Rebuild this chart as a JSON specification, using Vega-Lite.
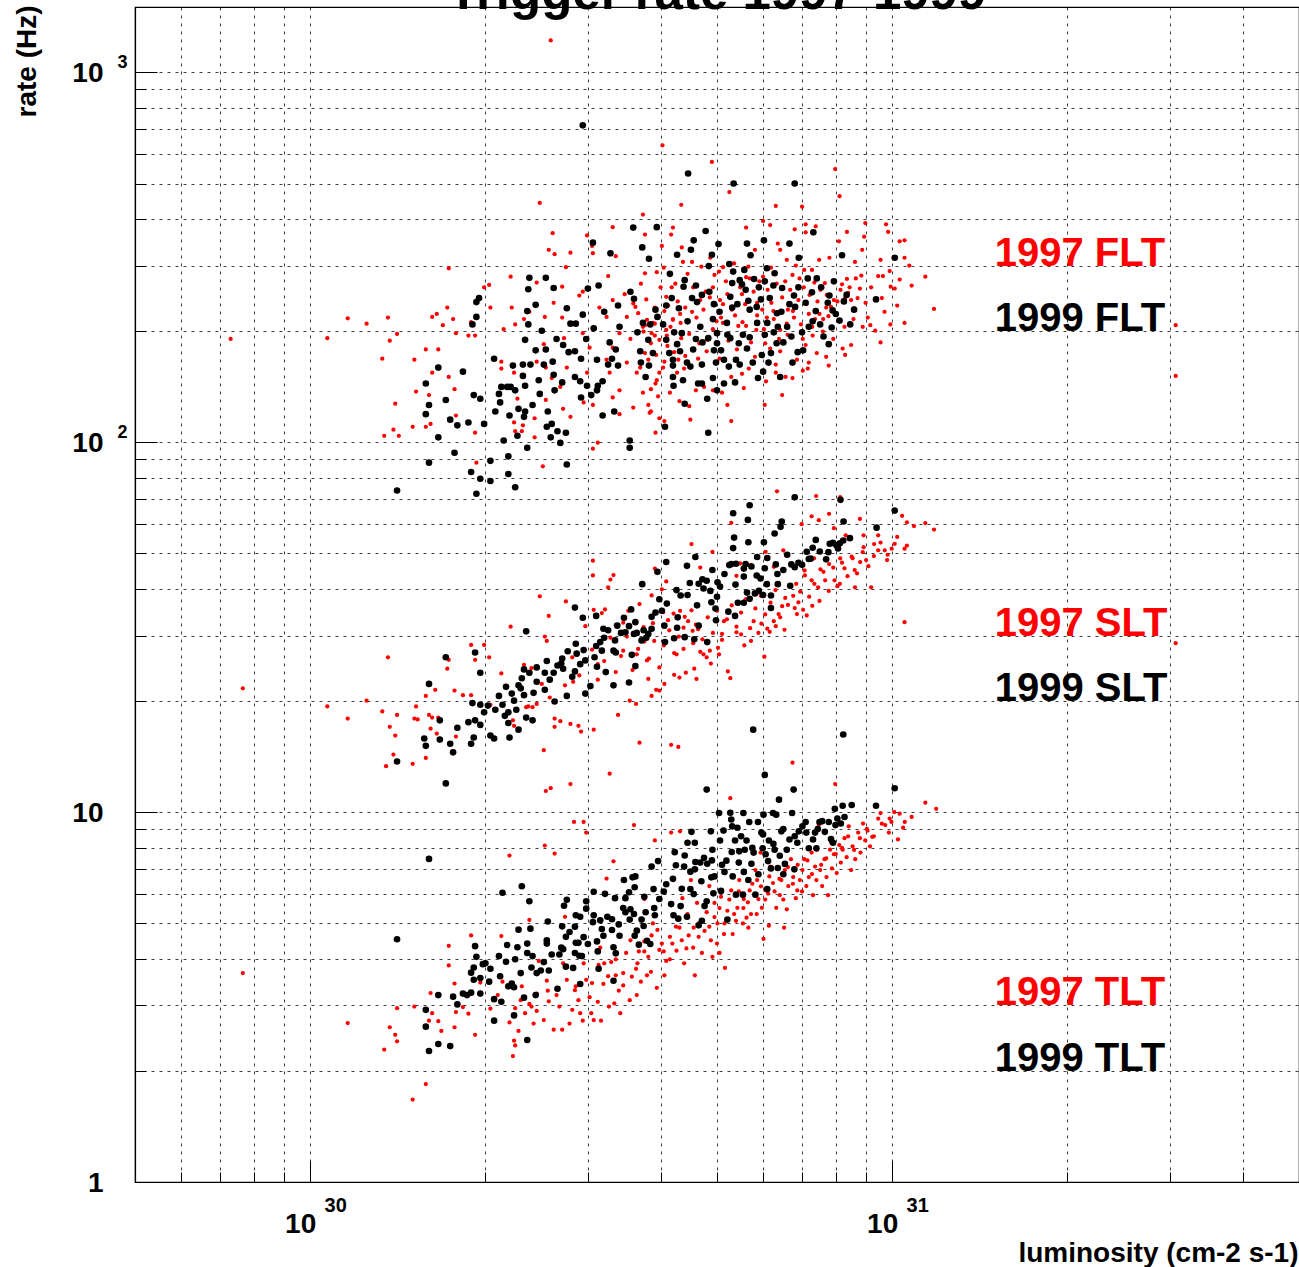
{
"$schema": "https://vega.github.io/schema/vega-lite/v6.json",
"width": 1164, "height": 1175,
"autosize": {"type": "none"},
"padding": {"left": 135, "top": 7, "right": 0, "bottom": 85},
"background": "white",
"config": {"view": {"stroke": "#000", "strokeWidth": 1.2}, "font": "Liberation Sans"},
"title": {"text": "Trigger rate 1997-1999", "fontSize": 51, "fontWeight": "bold", "font": "Liberation Sans", "color": "#000", "anchor": "middle", "frame": "group", "baseline": "alphabetic", "offset": -55, "zindex": 1},
"datasets": {
"r": [
{"x":0.73,"y":190},{"x":1.07,"y":191},{"x":1.16,"y":216},{"x":1.25,"y":209},
{"x":1.33,"y":168},{"x":1.36,"y":217},{"x":1.37,"y":188},{"x":1.41,"y":196},{"x":1.51,"y":167},{"x":1.52,"y":137},{"x":1.40,"y":127},{"x":1.34,"y":104},{"x":1.39,"y":108},{"x":1.42,"y":104},{"x":1.50,"y":110},{"x":1.58,"y":178},{"x":1.62,"y":218},{"x":1.65,"y":222},{"x":1.69,"y":207},{"x":1.72,"y":231},{"x":1.73,"y":295},{"x":1.76,"y":215},{"x":1.78,"y":197},{"x":1.66,"y":178},{"x":1.62,"y":154},{"x":1.60,"y":134},{"x":1.73,"y":150},{"x":1.77,"y":139},{"x":1.58,"y":110},{"x":1.61,"y":112},{"x":1.78,"y":118},{"x":1.92,"y":106},{"x":1.87,"y":194},{"x":1.92,"y":194},{"x":1.89,"y":211},{"x":1.99,"y":262},{"x":2.03,"y":266},{"x":2.04,"y":231},{"x":1.93,"y":88},{"x":2.13,"y":165},{"x":2.13,"y":158},{"x":2.21,"y":280},{"x":2.22,"y":231},{"x":2.25,"y":208},{"x":2.15,"y":202},{"x":2.24,"y":154},{"x":2.27,"y":131},{"x":2.24,"y":113},{"x":2.25,"y":107},{"x":2.31,"y":107},{"x":2.32,"y":111},{"x":2.43,"y":116},{"x":2.43,"y":103},{"x":2.51,"y":86},{"x":2.33,"y":215},{"x":2.38,"y":225},{"x":2.45,"y":270},{"x":2.48,"y":443},{"x":2.57,"y":331},{"x":2.61,"y":367},{"x":2.63,"y":322},{"x":2.75,"y":297},{"x":2.80,"y":325},{"x":2.71,"y":263},{"x":2.62,"y":238},{"x":2.53,"y":218},{"x":2.52,"y":184},{"x":2.71,"y":217},{"x":2.73,"y":191},{"x":2.86,"y":210},{"x":2.90,"y":249},{"x":2.94,"y":255},{"x":2.99,"y":362},{"x":3.05,"y":339},{"x":3.06,"y":324},{"x":3.25,"y":281},{"x":3.31,"y":381},{"x":3.35,"y":318},{"x":2.45,"y":165},{"x":2.54,"y":159},{"x":2.60,"y":149},{"x":2.69,"y":141},{"x":2.54,"y":130},{"x":2.72,"y":123},{"x":2.80,"y":117},{"x":2.95,"y":128},{"x":3.06,"y":126},{"x":3.12,"y":99.6},{"x":3.06,"y":96},{"x":2.59,"y":1218},{"x":4.03,"y":634},
{"x":3.47,"y":251},{"x":3.50,"y":218},{"x":3.59,"y":237},{"x":3.66,"y":223},{"x":3.73,"y":205},{"x":3.79,"y":214},{"x":3.86,"y":197},{"x":3.91,"y":209},{"x":3.98,"y":189},{"x":4.09,"y":201},{"x":4.20,"y":214},{"x":3.40,"y":197},{"x":3.31,"y":180},{"x":3.23,"y":167},{"x":3.27,"y":154},{"x":3.40,"y":138},{"x":3.50,"y":164},{"x":3.64,"y":154},{"x":3.73,"y":136},{"x":3.83,"y":120},{"x":3.94,"y":147},{"x":4.04,"y":159},{"x":4.15,"y":136},{"x":4.27,"y":154},{"x":3.59,"y":124},{"x":3.40,"y":119},{"x":3.31,"y":132},{"x":3.11,"y":167},{"x":3.02,"y":180},{"x":2.94,"y":197},{"x":3.23,"y":218},{"x":3.14,"y":231},{"x":3.31,"y":242},{"x":2.99,"y":154},{"x":2.76,"y":159},{"x":3.76,"y":286},{"x":3.94,"y":288},{"x":4.09,"y":247},{"x":4.18,"y":262},{"x":4.06,"y":226},
{"x":4.90,"y":572},{"x":7.98,"y":547},{"x":8.12,"y":462},{"x":5.25,"y":474},{"x":4.34,"y":438},{"x":6.31,"y":435},{"x":7.00,"y":433},{"x":3.73,"y":412},{"x":3.76,"y":364},{"x":4.20,"y":380},{"x":4.17,"y":364},{"x":5.61,"y":380},{"x":6.00,"y":396},{"x":6.17,"y":386},{"x":7.10,"y":388},{"x":7.39,"y":383},{"x":6.80,"y":376},{"x":7.10,"y":369},{"x":8.99,"y":391},{"x":9.76,"y":388},{"x":9.84,"y":370},{"x":8.36,"y":370},{"x":8.95,"y":359},{"x":8.10,"y":349},{"x":10.3,"y":349},{"x":10.5,"y":351},{"x":10.5,"y":315},{"x":9.55,"y":311},{"x":8.88,"y":331},{"x":8.63,"y":307},{"x":7.49,"y":311},{"x":7.80,"y":315},{"x":6.59,"y":311},{"x":6.42,"y":331},{"x":6.36,"y":344},{"x":5.81,"y":331},{"x":4.02,"y":339},{"x":4.35,"y":336},{"x":4.37,"y":307},{"x":4.53,"y":307},{"x":4.87,"y":315},{"x":5.12,"y":297},{"x":5.04,"y":289},{"x":5.61,"y":279},{"x":5.69,"y":277},{"x":6.00,"y":280},{"x":6.74,"y":283},{"x":6.93,"y":277},{"x":7.06,"y":292},{"x":7.28,"y":292},{"x":7.66,"y":269},{"x":8.20,"y":267},{"x":8.36,"y":276},{"x":8.66,"y":277},{"x":8.80,"y":260},{"x":9.46,"y":281},{"x":9.64,"y":281},{"x":9.94,"y":263},{"x":10.1,"y":260},{"x":10.8,"y":265},{"x":11.4,"y":280},{"x":11.8,"y":229},{"x":10.2,"y":234},{"x":9.70,"y":225},{"x":10.5,"y":210},{"x":9.93,"y":208},{"x":9.55,"y":186},{"x":9.08,"y":217},{"x":9.17,"y":207},{"x":8.9,"y":205},{"x":8.6,"y":230},{"x":8.5,"y":242},{"x":8.4,"y":253},{"x":8.3,"y":245},{"x":7.94,"y":242},{"x":7.7,"y":231},{"x":7.77,"y":219},{"x":7.5,"y":222},{"x":7.37,"y":215},{"x":7.19,"y":222},{"x":7.6,"y":199},{"x":7.3,"y":194},{"x":7.02,"y":190},{"x":7.1,"y":183},{"x":7.42,"y":174},{"x":7.7,"y":170},{"x":7.78,"y":161},{"x":8.22,"y":179},{"x":8.5,"y":183},{"x":8.3,"y":172},{"x":7.19,"y":164},{"x":7.16,"y":158},{"x":7.02,"y":156},{"x":6.74,"y":149},{"x":6.56,"y":150},{"x":6.31,"y":154},{"x":6.07,"y":146},{"x":6.04,"y":126},{"x":6.47,"y":134},{"x":6.31,"y":162},{"x":6.86,"y":167},{"x":6.42,"y":176},{"x":6.17,"y":179},{"x":5.81,"y":170},{"x":5.67,"y":158},{"x":5.52,"y":153},{"x":5.56,"y":140},{"x":5.29,"y":150},{"x":5.21,"y":126},{"x":5.29,"y":114},{"x":5.10,"y":136},{"x":4.92,"y":138},{"x":4.75,"y":141},{"x":4.60,"y":138},{"x":4.48,"y":125},{"x":4.31,"y":129},{"x":4.50,"y":115},{"x":4.06,"y":114},{"x":3.92,"y":106},{"x":3.98,"y":116},{"x":3.85,"y":121},{"x":3.81,"y":126},{"x":3.96,"y":133},{"x":3.85,"y":139},{"x":3.92,"y":144},{"x":3.98,"y":154},{"x":4.06,"y":165},{"x":4.29,"y":167},{"x":4.41,"y":171},{"x":4.56,"y":178},{"x":4.66,"y":185},{"x":4.81,"y":189},{"x":4.92,"y":202},{"x":5.12,"y":210},{"x":5.08,"y":217},{"x":5.37,"y":220},{"x":5.44,"y":206},{"x":5.61,"y":206},{"x":5.86,"y":220},{"x":6.09,"y":217},{"x":6.02,"y":202},{"x":6.26,"y":215},{"x":6.42,"y":201},{"x":6.59,"y":209},{"x":6.62,"y":228},{"x":6.78,"y":217},{"x":6.20,"y":238},{"x":5.86,"y":238},{"x":5.52,"y":251},{"x":5.21,"y":251},{"x":5.06,"y":242},{"x":4.92,"y":262},{"x":4.78,"y":255},{"x":4.68,"y":242},{"x":4.53,"y":225},{"x":4.41,"y":231},{"x":4.32,"y":222},{"x":4.20,"y":215},{"x":4.12,"y":234},{"x":3.91,"y":231},{"x":3.97,"y":219},{"x":3.88,"y":210},{"x":3.76,"y":207},{"x":3.74,"y":199},{"x":3.91,"y":194},{"x":4.10,"y":194},{"x":4.34,"y":191},{"x":4.22,"y":175},{"x":3.76,"y":174},{"x":3.69,"y":159},{"x":3.81,"y":167},{"x":3.76,"y":150},{"x":30.7,"y":207},{"x":30.7,"y":151},
{"x":3.55,"y":190},{"x":3.62,"y":232},{"x":3.70,"y":268},{"x":3.78,"y":243},{"x":3.85,"y":185},{"x":3.93,"y":172},{"x":4.00,"y":262},{"x":4.05,"y":296},{"x":4.11,"y":182},{"x":4.16,"y":205},{"x":4.24,"y":268},{"x":4.28,"y":240},{"x":4.33,"y":210},{"x":4.39,"y":158},{"x":4.45,"y":285},{"x":4.48,"y":196},{"x":4.55,"y":262},{"x":4.61,"y":217},{"x":4.64,"y":168},{"x":4.70,"y":298},{"x":4.74,"y":228},{"x":4.80,"y":176},{"x":4.86,"y":246},{"x":4.95,"y":283},{"x":4.99,"y":212},{"x":5.05,"y":168},{"x":5.12,"y":236},{"x":5.18,"y":272},{"x":5.23,"y":188},{"x":5.30,"y":228},{"x":5.35,"y":304},{"x":5.41,"y":178},{"x":5.48,"y":262},{"x":5.53,"y":211},{"x":5.59,"y":236},{"x":5.66,"y":298},{"x":5.72,"y":186},{"x":5.78,"y":255},{"x":5.84,"y":201},{"x":5.91,"y":272},{"x":5.98,"y":228},{"x":6.05,"y":185},{"x":6.11,"y":258},{"x":6.19,"y":296},{"x":6.25,"y":226},{"x":6.33,"y":268},{"x":6.39,"y":190},{"x":6.47,"y":246},{"x":6.55,"y":272},{"x":6.61,"y":195},{"x":6.68,"y":258},{"x":6.75,"y":226},{"x":6.83,"y":300},{"x":6.90,"y":242},{"x":6.97,"y":208},{"x":7.05,"y":262},{"x":7.12,"y":236},{"x":7.21,"y":250},{"x":7.29,"y":205},{"x":7.35,"y":270},{"x":7.44,"y":240},{"x":7.53,"y":258},{"x":7.61,"y":215},{"x":7.72,"y":250},{"x":7.85,"y":232},{"x":7.92,"y":190},{"x":8.05,"y":240},{"x":8.15,"y":258},{"x":8.28,"y":205},{"x":8.45,"y":262},{"x":8.58,"y":215},{"x":8.72,"y":245},{"x":8.85,"y":282},{"x":9.0,"y":238},{"x":9.2,"y":262},{"x":9.35,"y":200},{"x":9.6,"y":245},{"x":9.9,"y":290},{"x":10.3,"y":275},{"x":10.7,"y":300},
{"x":0.766,"y":21.6},{"x":1.07,"y":19.3},{"x":1.16,"y":17.9},{"x":1.25,"y":20.0},{"x":1.33,"y":18.7},{"x":1.36,"y":26.2},{"x":1.37,"y":17.0},{"x":1.41,"y":18.3},{"x":1.40,"y":16.1},{"x":1.39,"y":14.3},{"x":1.35,"y":13.3},{"x":1.50,"y":13.5},{"x":1.52,"y":19.3},{"x":1.51,"y":17.9},{"x":1.53,"y":17.8},{"x":1.58,"y":20.6},{"x":1.58,"y":14.0},{"x":1.60,"y":18.3},{"x":1.61,"y":16.8},{"x":1.62,"y":18.0},{"x":1.65,"y":16.3},{"x":1.66,"y":18.0},{"x":1.64,"y":21.4},{"x":1.72,"y":24.4},{"x":1.73,"y":25.8},{"x":1.77,"y":21.3},{"x":1.78,"y":16.0},{"x":1.83,"y":20.7},{"x":1.89,"y":20.7},{"x":1.89,"y":28.3},{"x":1.92,"y":25.8},{"x":1.99,"y":28.3},{"x":2.03,"y":26.2},{"x":2.04,"y":19.5},{"x":2.13,"y":23.7},{"x":2.21,"y":31.7},{"x":2.23,"y":17.7},{"x":2.24,"y":17.1},{"x":2.33,"y":25.0},{"x":2.35,"y":19.2},{"x":2.37,"y":19.3},{"x":2.41,"y":19.2},{"x":2.45,"y":19.6},{"x":2.52,"y":14.7},{"x":2.48,"y":38.3},{"x":2.53,"y":29.8},{"x":2.55,"y":29.0},{"x":2.57,"y":33.9},{"x":2.63,"y":17.9},{"x":2.63,"y":17.0},{"x":2.69,"y":17.6},{"x":2.75,"y":37.1},{"x":2.80,"y":17.3},{"x":2.83,"y":22.5},{"x":2.89,"y":17.1},{"x":2.92,"y":16.5},{"x":2.97,"y":31.8},{"x":3.07,"y":16.7},{"x":3.06,"y":47.8},{"x":3.06,"y":43.6},{"x":3.07,"y":35.2},{"x":3.12,"y":25.1},{"x":3.17,"y":34.5},{"x":3.21,"y":35.3},{"x":3.25,"y":40.5},{"x":3.27,"y":12.7},{"x":3.28,"y":42.5},{"x":3.32,"y":43.7},{"x":3.38,"y":18.3},{"x":3.45,"y":27.3},{"x":3.54,"y":20.0},{"x":3.63,"y":19.6},{"x":3.64,"y":26.7},{"x":3.68,"y":15.4},{"x":3.75,"y":28.9},{"x":3.79,"y":25.7},{"x":3.81,"y":22.9},{"x":3.88,"y":32.4},{"x":3.86,"y":20.6},{"x":3.93,"y":21.4},{"x":3.98,"y":21.3},{"x":4.06,"y":22.2},{"x":4.17,"y":15.2},{"x":4.29,"y":15.0},{"x":4.22,"y":23.5},{"x":4.26,"y":26.7},{"x":4.31,"y":23.1},{"x":4.42,"y":23.8},{"x":4.57,"y":24.4},{"x":4.61,"y":22.9},{"x":4.04,"y":34.7},{"x":4.12,"y":33.0},{"x":4.21,"y":34.4},{"x":4.32,"y":35.0},{"x":4.38,"y":31.5},{"x":4.40,"y":33.7},{"x":4.52,"y":35.1},{"x":4.54,"y":30.9},{"x":4.60,"y":32.1},{"x":4.68,"y":27.1},{"x":4.74,"y":26.7},{"x":4.80,"y":26.2},{"x":4.88,"y":25.2},{"x":4.86,"y":27.3},{"x":5.02,"y":27.8},{"x":5.04,"y":26.7},{"x":5.10,"y":30.3},{"x":5.14,"y":32.8},{"x":5.22,"y":24.0},{"x":5.27,"y":23.0},{"x":5.40,"y":31.7},{"x":5.50,"y":30.2},{"x":5.57,"y":28.2},{"x":5.72,"y":29.0},{"x":5.78,"y":32.8},{"x":5.89,"y":30.5},{"x":5.96,"y":32.3},{"x":6.03,"y":26.3},{"x":6.10,"y":31.3},{"x":6.16,"y":30.7},{"x":6.26,"y":32.8},{"x":6.31,"y":31.8},{"x":6.38,"y":34.3},{"x":6.53,"y":31.1},{"x":6.47,"y":36.0},{"x":6.62,"y":36.3},{"x":6.76,"y":38.4},{"x":6.90,"y":36.9},{"x":6.86,"y":34.3},{"x":7.03,"y":35.2},{"x":7.13,"y":34.0},{"x":7.29,"y":36.1},{"x":6.84,"y":41.4},{"x":7.27,"y":42.3},{"x":7.46,"y":40.5},{"x":7.67,"y":42.3},{"x":7.96,"y":42.3},{"x":8.13,"y":41.4},{"x":8.63,"y":40.5},{"x":7.53,"y":45.3},{"x":7.79,"y":46.8},{"x":8.28,"y":45.6},{"x":8.62,"y":45.1},{"x":8.81,"y":47.4},{"x":9.02,"y":48.0},{"x":9.20,"y":40.5},{"x":9.71,"y":51.0},{"x":9.98,"y":51.5},{"x":10.1,"y":53.1},{"x":10.5,"y":51.5},{"x":10.4,"y":63.2},{"x":10.6,"y":60.7},{"x":10.9,"y":59.3},{"x":11.4,"y":60.4},{"x":11.8,"y":58.0},{"x":10.5,"y":32.6},{"x":6.34,"y":73.6},{"x":7.40,"y":71.5},{"x":8.14,"y":71},{"x":7.27,"y":63},{"x":7.48,"y":61.5},{"x":7.79,"y":64},{"x":8.80,"y":62},{"x":6.99,"y":60},{"x":7.94,"y":58.5},{"x":8.32,"y":56},{"x":8.93,"y":56},{"x":9.46,"y":56},{"x":9.31,"y":53},{"x":9.46,"y":51},{"x":9.82,"y":49.6},{"x":8.93,"y":52},{"x":8.52,"y":49},{"x":8.14,"y":48.5},{"x":7.34,"y":48.5},{"x":7.07,"y":45},{"x":6.50,"y":51},{"x":6.26,"y":46},{"x":6.06,"y":50.5},{"x":5.94,"y":43},{"x":5.72,"y":46.6},{"x":5.48,"y":47},{"x":5.40,"y":43.5},{"x":5.29,"y":60.5},{"x":4.91,"y":50.5},{"x":4.68,"y":45.8},{"x":4.52,"y":53},{"x":4.09,"y":42},{"x":4.02,"y":40},{"x":3.91,"y":45.5},{"x":3.86,"y":38.5},{"x":3.68,"y":36.5},{"x":3.52,"y":35},{"x":3.45,"y":32.5},{"x":3.35,"y":32},{"x":30.7,"y":28.6},{"x":6.74,"y":13.6},
{"x":2.3,"y":21.5},{"x":2.4,"y":24.5},{"x":2.5,"y":22.2},{"x":2.58,"y":20.4},{"x":2.66,"y":24.8},{"x":2.74,"y":22.0},{"x":2.82,"y":26.2},{"x":2.9,"y":23.4},{"x":2.98,"y":20.8},{"x":3.05,"y":27.5},{"x":3.12,"y":22.8},{"x":3.2,"y":25.6},{"x":3.28,"y":29.6},{"x":3.35,"y":23.9},{"x":3.42,"y":26.4},{"x":3.5,"y":29.8},{"x":3.58,"y":24.2},{"x":3.66,"y":27.6},{"x":3.74,"y":31.6},{"x":3.82,"y":26.0},{"x":3.9,"y":29.0},{"x":3.98,"y":24.6},{"x":4.05,"y":28.2},{"x":4.14,"y":31.0},{"x":4.22,"y":26.9},{"x":4.3,"y":29.8},{"x":4.38,"y":27.6},{"x":4.46,"y":32.8},{"x":4.55,"y":28.6},{"x":4.64,"y":31.2},{"x":4.72,"y":29.3},{"x":4.82,"y":33.6},{"x":4.92,"y":30.5},{"x":5.0,"y":35.0},{"x":5.1,"y":29.2},{"x":5.2,"y":33.2},{"x":5.3,"y":36.2},{"x":5.4,"y":30.6},{"x":5.5,"y":34.6},{"x":5.6,"y":37.6},{"x":5.7,"y":31.4},{"x":5.82,"y":35.5},{"x":5.95,"y":38.4},{"x":6.05,"y":34.2},{"x":6.18,"y":36.8},{"x":6.3,"y":39.8},{"x":6.42,"y":33.6},{"x":6.55,"y":37.9},{"x":6.68,"y":40.6},{"x":6.8,"y":35.6},{"x":6.95,"y":39.4},{"x":7.08,"y":43.6},{"x":7.2,"y":38.2},{"x":7.35,"y":41.4},{"x":7.5,"y":37.2},{"x":7.62,"y":44.6},{"x":7.78,"y":39.6},{"x":7.92,"y":45.8},{"x":8.05,"y":40.8},{"x":8.2,"y":47.2},{"x":8.38,"y":43.4},{"x":8.55,"y":48.5},{"x":8.7,"y":44.2},{"x":8.9,"y":50.4},{"x":9.1,"y":46.2},{"x":9.3,"y":49.2},{"x":9.55,"y":53.5},{"x":9.8,"y":48.0},{"x":10.2,"y":55.4},{"x":10.6,"y":52.5},
{"x":0.766,"y":3.67},{"x":1.16,"y":2.69},{"x":1.34,"y":2.28},{"x":1.37,"y":2.62},{"x":1.40,"y":2.50},{"x":1.41,"y":2.40},{"x":1.41,"y":2.95},{"x":1.51,"y":2.98},{"x":1.50,"y":1.67},{"x":1.58,"y":1.84},{"x":1.60,"y":2.73},{"x":1.61,"y":3.24},{"x":1.62,"y":2.86},{"x":1.66,"y":2.72},{"x":1.68,"y":2.56},{"x":1.73,"y":4.35},{"x":1.73,"y":3.85},{"x":1.77,"y":3.44},{"x":1.77,"y":2.62},{"x":1.78,"y":2.88},{"x":1.83,"y":2.97},{"x":1.87,"y":2.85},{"x":1.89,"y":4.64},{"x":1.92,"y":2.50},{"x":1.96,"y":3.46},{"x":2.04,"y":2.94},{"x":2.13,"y":4.62},{"x":2.14,"y":3.48},{"x":2.20,"y":7.63},{"x":2.23,"y":2.19},{"x":2.25,"y":2.34},{"x":2.24,"y":2.41},{"x":2.25,"y":2.95},{"x":2.28,"y":2.56},{"x":2.31,"y":3.38},{"x":2.34,"y":2.86},{"x":2.38,"y":5.11},{"x":2.38,"y":3.03},{"x":2.40,"y":2.98},{"x":2.42,"y":2.68},{"x":2.45,"y":3.23},{"x":2.47,"y":3.96},{"x":2.52,"y":2.74},{"x":2.53,"y":8.12},{"x":2.54,"y":11.4},{"x":2.59,"y":11.6},{"x":2.56,"y":3.29},{"x":2.57,"y":3.08},{"x":2.62,"y":2.58},{"x":2.63,"y":7.72},{"x":2.68,"y":2.98},{"x":2.71,"y":2.58},{"x":2.74,"y":5.21},{"x":2.76,"y":3.52},{"x":2.79,"y":2.68},{"x":2.80,"y":11.9},{"x":2.82,"y":2.92},{"x":2.84,"y":9.40},{"x":2.86,"y":3.38},{"x":2.89,"y":3.10},{"x":2.91,"y":2.86},{"x":2.94,"y":2.73},{"x":2.95,"y":9.40},{"x":2.98,"y":8.80},{"x":2.98,"y":3.52},{"x":3.02,"y":3.16},{"x":3.04,"y":2.86},{"x":3.07,"y":2.74},{"x":3.12,"y":3.07},{"x":3.13,"y":3.86},{"x":3.16,"y":2.73},{"x":3.19,"y":3.43},{"x":3.20,"y":3.90},{"x":3.23,"y":6.61},{"x":3.26,"y":2.98},{"x":3.29,"y":3.93},{"x":3.32,"y":7.36},{"x":3.33,"y":3.04},{"x":3.35,"y":3.62},{"x":3.39,"y":3.29},{"x":3.41,"y":2.86},{"x":3.45,"y":3.67},{"x":3.49,"y":4.16},{"x":3.54,"y":3.10},{"x":3.57,"y":3.59},{"x":3.60,"y":9.22},{"x":3.63,"y":3.77},{"x":3.64,"y":3.20},{"x":3.67,"y":4.20},{"x":3.70,"y":3.48},{"x":3.75,"y":4.47},{"x":3.75,"y":5.82},{"x":3.79,"y":3.62},{"x":3.81,"y":4.06},{"x":3.86,"y":4.64},{"x":3.88,"y":5.00},{"x":3.91,"y":8.38},{"x":3.94,"y":3.35},{"x":3.98,"y":4.24},{"x":4.02,"y":4.41},{"x":4.06,"y":3.62},{"x":4.09,"y":3.96},{"x":4.15,"y":4.60},{"x":4.17,"y":8.80},{"x":4.19,"y":4.41},{"x":4.21,"y":6.55},{"x":4.26,"y":4.22},{"x":4.31,"y":4.87},{"x":4.32,"y":8.87},{"x":4.36,"y":5.85},{"x":4.39,"y":3.90},{"x":4.43,"y":4.28},{"x":4.47,"y":4.64},{"x":4.51,"y":6.55},{"x":4.56,"y":4.87},{"x":4.58,"y":3.62},{"x":4.62,"y":5.68},{"x":4.66,"y":5.02},{"x":4.71,"y":4.16},{"x":4.76,"y":4.77},{"x":4.80,"y":5.36},{"x":4.85,"y":6.31},{"x":4.88,"y":4.50},{"x":4.91,"y":4.06},{"x":4.95,"y":5.68},{"x":5.00,"y":4.41},{"x":5.01,"y":5.00},{"x":5.05,"y":4.16},{"x":5.08,"y":5.90},{"x":5.14,"y":4.68},{"x":5.16,"y":3.79},{"x":5.21,"y":5.41},{"x":5.27,"y":10.9},{"x":5.29,"y":6.14},{"x":5.32,"y":4.68},{"x":5.39,"y":5.08},{"x":5.42,"y":5.51},{"x":5.46,"y":6.55},{"x":5.54,"y":5.00},{"x":5.56,"y":5.82},{"x":5.62,"y":5.18},{"x":5.66,"y":4.87},{"x":5.69,"y":6.14},{"x":5.72,"y":5.30},
{"x":5.82,"y":6.97},{"x":5.86,"y":6.55},{"x":5.89,"y":5.82},{"x":5.94,"y":7.77},{"x":5.97,"y":5.51},{"x":6.01,"y":4.54},{"x":6.06,"y":6.14},{"x":6.12,"y":6.02},{"x":6.14,"y":4.93},{"x":6.18,"y":7.12},{"x":6.24,"y":6.43},{"x":6.32,"y":5.51},{"x":6.41,"y":5.96},{"x":6.45,"y":6.55},{"x":6.52,"y":4.87},{"x":6.54,"y":6.97},{"x":6.59,"y":5.46},{"x":6.63,"y":6.31},{"x":6.70,"y":7.46},{"x":6.76,"y":6.67},{"x":6.83,"y":5.85},{"x":6.87,"y":6.14},{"x":6.94,"y":6.55},{"x":7.01,"y":6.97},{"x":7.06,"y":7.46},{"x":7.12,"y":6.31},{"x":7.19,"y":6.67},{"x":7.27,"y":7.77},{"x":7.31,"y":5.96},{"x":7.37,"y":7.12},{"x":7.41,"y":6.55},{"x":7.48,"y":9.22},{"x":7.52,"y":6.97},{"x":7.58,"y":6.31},{"x":7.65,"y":7.46},{"x":7.71,"y":6.67},{"x":7.76,"y":5.96},{"x":7.82,"y":7.91},{"x":7.88,"y":7.04},{"x":7.94,"y":7.69},{"x":7.98,"y":11.9},{"x":8.03,"y":6.84},{"x":8.11,"y":8.14},{"x":8.16,"y":7.30},{"x":8.22,"y":7.91},{"x":8.28,"y":8.50},{"x":8.35,"y":7.55},{"x":8.42,"y":9.15},{"x":8.50,"y":6.97},{"x":8.55,"y":8.08},{"x":8.64,"y":7.46},{"x":8.74,"y":8.80},{"x":8.82,"y":7.77},{"x":8.91,"y":9.31},{"x":8.99,"y":8.38},{"x":9.07,"y":8.91},{"x":9.16,"y":8.08},{"x":9.24,"y":8.57},{"x":9.46,"y":9.60},{"x":9.55,"y":9.94},{"x":9.73,"y":9.22},{"x":9.87,"y":8.80},{"x":9.97,"y":9.40},{"x":10.08,"y":10.0},{"x":10.23,"y":8.43},{"x":10.44,"y":9.07},{"x":10.51,"y":9.40},{"x":10.8,"y":9.70},{"x":11.4,"y":10.6},{"x":11.9,"y":10.2},
{"x":2.1,"y":3.2},{"x":2.2,"y":2.7},{"x":2.3,"y":3.1},{"x":2.45,"y":2.9},{"x":2.55,"y":3.5},{"x":2.65,"y":3.2},{"x":2.72,"y":3.9},{"x":2.85,"y":3.3},{"x":2.95,"y":3.9},{"x":3.05,"y":3.45},{"x":3.15,"y":4.3},{"x":3.25,"y":3.6},{"x":3.35,"y":4.0},{"x":3.45,"y":3.4},{"x":3.55,"y":4.5},{"x":3.65,"y":3.9},{"x":3.75,"y":4.2},{"x":3.85,"y":3.7},{"x":3.95,"y":4.8},{"x":4.05,"y":4.2},{"x":4.15,"y":4.0},{"x":4.25,"y":4.9},{"x":4.35,"y":4.5},{"x":4.45,"y":5.3},{"x":4.55,"y":4.3},{"x":4.65,"y":4.6},{"x":4.75,"y":5.6},{"x":4.85,"y":4.9},{"x":4.95,"y":5.2},{"x":5.05,"y":5.5},{"x":5.15,"y":5.0},{"x":5.25,"y":5.8},{"x":5.35,"y":5.3},{"x":5.45,"y":6.1},{"x":5.55,"y":5.5},{"x":5.65,"y":5.7},{"x":5.75,"y":6.4},{"x":5.85,"y":5.3},{"x":5.95,"y":6.3},{"x":6.05,"y":5.8},{"x":6.15,"y":6.7},{"x":6.28,"y":6.1},{"x":6.4,"y":6.6},{"x":6.5,"y":5.8},{"x":6.62,"y":7.1},{"x":6.75,"y":6.4},{"x":6.88,"y":7.2},{"x":7.0,"y":6.1},{"x":7.15,"y":7.4},{"x":7.28,"y":6.8},{"x":7.42,"y":7.9},{"x":7.55,"y":7.2},{"x":7.7,"y":7.5},{"x":7.85,"y":8.3},{"x":8.0,"y":7.7},{"x":8.2,"y":8.0},{"x":8.4,"y":8.6},{"x":8.6,"y":7.9},{"x":8.8,"y":8.5},{"x":9.05,"y":9.0},{"x":9.3,"y":8.6},{"x":9.6,"y":9.3},{"x":9.9,"y":9.6},{"x":10.3,"y":9.9}
],
"b": [
{"x":1.41,"y":74},{"x":1.60,"y":88},{"x":1.58,"y":144},{"x":1.66,"y":159},{"x":1.60,"y":126},{"x":1.58,"y":119},{"x":1.66,"y":103},{"x":1.71,"y":130},{"x":1.74,"y":115},{"x":1.79,"y":111},{"x":1.77,"y":93.6},{"x":1.83,"y":155},{"x":1.87,"y":113},{"x":1.91,"y":134},{"x":1.96,"y":131},{"x":1.99,"y":112},{"x":1.89,"y":83},{"x":1.96,"y":79.6},{"x":1.93,"y":72.5},{"x":2.04,"y":78.5},{"x":2.04,"y":89},{"x":2.07,"y":168},{"x":2.08,"y":121},{"x":2.11,"y":135},{"x":2.12,"y":128},{"x":2.15,"y":101},{"x":2.19,"y":91.5},{"x":2.19,"y":82},{"x":2.25,"y":75.5},{"x":2.13,"y":141},{"x":2.18,"y":141},{"x":2.21,"y":141},{"x":2.25,"y":138},{"x":2.20,"y":118},{"x":2.23,"y":161},{"x":2.27,"y":104},{"x":2.28,"y":123},{"x":2.33,"y":117},{"x":2.34,"y":121},{"x":2.36,"y":96.5},{"x":2.32,"y":162},{"x":2.32,"y":151},{"x":2.34,"y":142},{"x":2.39,"y":162},{"x":2.41,"y":126},{"x":2.37,"y":259},{"x":2.36,"y":226},{"x":2.37,"y":208},{"x":2.34,"y":189},{"x":2.38,"y":278},{"x":2.44,"y":177},{"x":2.44,"y":235},{"x":2.47,"y":147},{"x":2.48,"y":135},{"x":2.52,"y":162},{"x":2.54,"y":278},{"x":2.54,"y":178},{"x":2.56,"y":121},{"x":2.55,"y":110},{"x":2.59,"y":103},{"x":2.60,"y":112},{"x":2.62,"y":261},{"x":2.62,"y":152},{"x":2.61,"y":165},{"x":2.63,"y":138},{"x":2.69,"y":99.5},{"x":2.66,"y":107},{"x":2.71,"y":145},{"x":2.76,"y":230},{"x":2.75,"y":106},{"x":2.76,"y":87},{"x":2.72,"y":183},{"x":2.78,"y":175},{"x":2.80,"y":209},{"x":2.86,"y":209},{"x":2.85,"y":176},{"x":2.92,"y":168},{"x":2.91,"y":146},{"x":2.92,"y":132},{"x":2.94,"y":221},{"x":2.98,"y":190},{"x":3.07,"y":203},{"x":3.13,"y":265},{"x":3.06,"y":346},{"x":3.28,"y":324},{"x":3.04,"y":134},{"x":2.99,"y":142},{"x":3.11,"y":138},{"x":3.12,"y":142},{"x":3.18,"y":146},{"x":3.18,"y":118},{"x":3.11,"y":167},{"x":3.25,"y":162},{"x":3.30,"y":168},{"x":3.27,"y":186},{"x":3.35,"y":178},{"x":3.38,"y":161},{"x":3.33,"y":121},{"x":3.38,"y":234},{"x":3.55,"y":255},{"x":3.60,"y":244},{"x":3.59,"y":380},{"x":3.54,"y":101},{"x":3.54,"y":96.5},{"x":3.72,"y":336},{"x":3.82,"y":313},{"x":3.94,"y":381},{"x":1.95,"y":245},{"x":1.93,"y":239},{"x":1.93,"y":218},{"x":1.90,"y":208},{"x":2.94,"y":718},
{"x":4.46,"y":532},{"x":5.34,"y":500},{"x":6.80,"y":500},{"x":4.78,"y":372},{"x":4.56,"y":351},{"x":5.03,"y":343},{"x":4.51,"y":331},{"x":5.63,"y":344},{"x":6.02,"y":351},{"x":6.66,"y":344},{"x":7.32,"y":369},{"x":4.27,"y":321},{"x":4.90,"y":321},{"x":5.71,"y":320},{"x":6.91,"y":315},{"x":8.20,"y":320},{"x":10.1,"y":315},{"x":4.84,"y":299},{"x":5.25,"y":303},{"x":5.33,"y":289},{"x":5.57,"y":292},{"x":6.09,"y":295},{"x":6.28,"y":286},{"x":4.40,"y":274},{"x":4.38,"y":263},{"x":4.60,"y":265},{"x":4.71,"y":250},{"x":5.31,"y":269},{"x":5.47,"y":274},{"x":5.52,"y":267},{"x":5.79,"y":276},{"x":5.90,"y":262},{"x":6.04,"y":272},{"x":6.47,"y":261},{"x":7.16,"y":277},{"x":7.42,"y":277},{"x":7.94,"y":272},{"x":7.28,"y":254},{"x":7.80,"y":249},{"x":8.26,"y":240},{"x":9.38,"y":243},{"x":4.18,"y":245},{"x":4.53,"y":245},{"x":4.62,"y":239},{"x":4.94,"y":236},{"x":5.27,"y":247},{"x":5.31,"y":231},{"x":5.42,"y":236},{"x":5.66,"y":241},{"x":5.69,"y":228},{"x":5.95,"y":243},{"x":6.16,"y":245},{"x":6.34,"y":223},{"x":6.66,"y":236},{"x":6.78,"y":249},{"x":6.81,"y":232},{"x":7.39,"y":226},{"x":7.90,"y":227},{"x":4.09,"y":234},{"x":3.92,"y":228},{"x":3.73,"y":210},{"x":3.84,"y":208},{"x":4.04,"y":208},{"x":4.22,"y":198},{"x":4.35,"y":197},{"x":4.68,"y":205},{"x":4.92,"y":215},{"x":5.00,"y":197},{"x":5.21,"y":195},{"x":5.27,"y":191},{"x":5.54,"y":195},{"x":5.69,"y":192},{"x":5.86,"y":210},{"x":6.04,"y":195},{"x":6.26,"y":198},{"x":6.36,"y":205},{"x":6.71,"y":193},{"x":7.00,"y":198},{"x":7.19,"y":205},{"x":7.52,"y":208},{"x":7.62,"y":193},{"x":7.87,"y":204},{"x":8.12,"y":213},{"x":8.47,"y":208},{"x":7.78,"y":184},{"x":3.69,"y":176},{"x":3.81,"y":189},{"x":3.88,"y":174},{"x":4.09,"y":189},{"x":4.14,"y":174},{"x":4.27,"y":184},{"x":4.20,"y":167},{"x":4.32,"y":176},{"x":4.55,"y":178},{"x":4.72,"y":186},{"x":4.83,"y":191},{"x":4.94,"y":177},{"x":5.00,"y":185},{"x":5.08,"y":177},{"x":4.98,"y":164},{"x":5.14,"y":167},{"x":5.24,"y":160},{"x":5.39,"y":167},{"x":5.47,"y":162},{"x":5.63,"y":179},{"x":5.76,"y":164},{"x":5.97,"y":172},{"x":6.13,"y":164},{"x":6.19,"y":174},{"x":6.33,"y":185},{"x":6.50,"y":186},{"x":6.74,"y":164},{"x":6.88,"y":175},{"x":7.03,"y":177},{"x":3.70,"y":164},{"x":3.82,"y":161},{"x":4.20,"y":161},{"x":4.44,"y":164},{"x":4.50,"y":160},{"x":4.71,"y":162},{"x":3.77,"y":150},{"x":4.20,"y":150},{"x":4.37,"y":147},{"x":4.64,"y":144},{"x":4.71,"y":144},{"x":4.92,"y":149},{"x":5.00,"y":138},{"x":4.81,"y":131},{"x":5.14,"y":144},{"x":5.37,"y":145},{"x":5.88,"y":149},{"x":6.00,"y":155},{"x":6.42,"y":150},{"x":4.21,"y":142},{"x":4.40,"y":127},{"x":4.07,"y":110},{"x":4.83,"y":106},
{"x":3.65,"y":198},{"x":3.95,"y":218},{"x":4.15,"y":285},{"x":4.3,"y":230},{"x":4.45,"y":212},{"x":4.6,"y":190},{"x":4.85,"y":255},{"x":5.05,"y":225},{"x":5.2,"y":210},{"x":5.45,"y":185},{"x":5.6,"y":258},{"x":5.85,"y":232},{"x":6.1,"y":210},{"x":6.25,"y":265},{"x":6.45,"y":225},{"x":6.6,"y":205},{"x":6.9,"y":262},{"x":7.1,"y":238},{"x":7.3,"y":212},{"x":7.55,"y":262},{"x":7.75,"y":238},{"x":8.0,"y":222},{"x":8.35,"y":250},{"x":8.6,"y":228},{"x":3.4,"y":205},{"x":3.2,"y":225},{"x":3.0,"y":260},{"x":2.85,"y":150},{"x":2.65,"y":190},{"x":2.5,"y":200},
{"x":1.41,"y":13.7},{"x":1.71,"y":11.95},{"x":1.58,"y":15.1},{"x":1.57,"y":15.8},{"x":1.67,"y":15.7},{"x":1.67,"y":17.7},{"x":1.76,"y":14.5},{"x":1.74,"y":15.3},{"x":1.79,"y":16.9},{"x":1.87,"y":17.5},{"x":1.89,"y":15.3},{"x":1.91,"y":15.9},{"x":1.92,"y":17.7},{"x":1.90,"y":19.7},{"x":1.96,"y":19.5},{"x":1.99,"y":18.6},{"x":1.96,"y":17.2},{"x":1.96,"y":23.8},{"x":1.92,"y":27.0},{"x":1.71,"y":26.2},{"x":1.60,"y":22.2},{"x":2.04,"y":16.1},{"x":2.07,"y":15.8},{"x":2.08,"y":18.9},{"x":2.11,"y":20.6},{"x":2.17,"y":21.8},{"x":2.14,"y":19.5},{"x":2.19,"y":18.6},{"x":2.19,"y":17.4},{"x":2.20,"y":15.9},{"x":2.22,"y":20.9},{"x":2.24,"y":20.0},{"x":2.26,"y":18.9},{"x":2.28,"y":16.7},{"x":2.30,"y":21.6},{"x":2.33,"y":20.7},{"x":2.35,"y":18.0},{"x":2.41,"y":17.7},{"x":2.31,"y":23.0},{"x":2.33,"y":24.3},{"x":2.38,"y":23.8},{"x":2.35,"y":30.8},{"x":2.45,"y":22.5},{"x":2.45,"y":24.6},{"x":2.53,"y":23.8},{"x":2.55,"y":25.6},{"x":2.53,"y":21.4},{"x":2.62,"y":23.8},{"x":2.63,"y":19.9},{"x":2.66,"y":24.9},{"x":2.71,"y":26.0},{"x":2.72,"y":24.4},{"x":2.76,"y":20.6},{"x":2.77,"y":27.2},{"x":2.85,"y":24.0},{"x":2.86,"y":28.5},{"x":2.85,"y":35.7},{"x":2.87,"y":26.8},{"x":2.91,"y":25.1},{"x":2.97,"y":25.7},{"x":2.97,"y":20.9},{"x":3.03,"y":21.9},{"x":3.10,"y":28.1},{"x":3.11,"y":24.7},{"x":3.15,"y":28.8},{"x":3.17,"y":27.3},{"x":3.22,"y":23.9},{"x":3.19,"y":31.3},{"x":3.25,"y":31.0},{"x":2.94,"y":33.5},{"x":3.10,"y":33.9},{"x":3.32,"y":27.3},{"x":3.32,"y":22.0},{"x":3.34,"y":29.1},{"x":3.37,"y":31.9},{"x":3.42,"y":30.5},{"x":3.46,"y":33.5},{"x":3.53,"y":31.8},{"x":3.53,"y":22.4},{"x":3.57,"y":26.6},{"x":3.62,"y":24.8},{"x":3.56,"y":35.3},{"x":3.60,"y":30.3},{"x":3.64,"y":30.5},{"x":3.72,"y":41.3},{"x":3.74,"y":31.0},{"x":3.71,"y":29.1},{"x":3.81,"y":30.3},{"x":3.86,"y":33.7},{"x":3.86,"y":31.3},{"x":3.95,"y":44.6},{"x":3.98,"y":37.6},{"x":4.02,"y":35.0},{"x":4.06,"y":31.9},{"x":4.09,"y":47.4},{"x":4.07,"y":28.8},{"x":4.22,"y":29.5},{"x":4.27,"y":31.5},{"x":4.26,"y":39.8},{"x":4.33,"y":38.5},{"x":4.40,"y":29.7},{"x":4.44,"y":46.3},{"x":4.49,"y":41.6},{"x":4.57,"y":29.3},{"x":4.59,"y":48.9},{"x":4.65,"y":41.4},{"x":4.65,"y":31.9},{"x":4.72,"y":42.6},{"x":4.74,"y":40.2},{"x":4.81,"y":28.8},{"x":4.87,"y":39.6},{"x":4.89,"y":36.9},{"x":4.98,"y":33.0},{"x":5.01,"y":41.8},{"x":4.91,"y":45.1},{"x":4.97,"y":35.5},{"x":5.06,"y":40.7},{"x":5.23,"y":34.8},{"x":5.25,"y":46.5},{"x":5.29,"y":46.8},{"x":5.33,"y":51.7},{"x":5.33,"y":64.2},{"x":5.35,"y":55.2},{"x":5.37,"y":33.9},{"x":5.39,"y":46.9},{"x":5.43,"y":36.8},{"x":5.56,"y":45.5},{"x":5.56,"y":43.3},{"x":5.56,"y":36.8},{"x":5.63,"y":39.2},{"x":5.66,"y":53.6},{"x":5.65,"y":61.6},{"x":5.69,"y":67.5},{"x":5.73,"y":46.1},{"x":5.69,"y":37.7},{"x":5.86,"y":48.9},{"x":5.81,"y":39.0},{"x":5.90,"y":39.6},{"x":5.94,"y":42.8},{"x":6.00,"y":38.6},{"x":6.02,"y":53.6},{"x":6.04,"y":45.6},{"x":6.09,"y":41.3},{"x":6.19,"y":35.6},{"x":6.19,"y":38.5},{"x":6.28,"y":56.6},{"x":6.31,"y":46.7},{"x":6.36,"y":41.3},{"x":6.43,"y":59.0},{"x":6.46,"y":61.0},{"x":6.50,"y":45.1},{"x":6.71,"y":46.7},{"x":6.68,"y":40.9},{"x":6.80,"y":70.9},{"x":6.80,"y":45.9},{"x":7.00,"y":46.6},{"x":7.13,"y":50.5},{"x":7.19,"y":48.3},{"x":7.24,"y":48.4},{"x":7.39,"y":54.4},{"x":7.51,"y":50.6},{"x":7.70,"y":48.2},{"x":7.77,"y":50.4},{"x":7.81,"y":53.1},{"x":7.91,"y":53.4},{"x":8.02,"y":52.6},{"x":8.07,"y":51.6},{"x":8.13,"y":53.3},{"x":8.24,"y":54.2},{"x":8.15,"y":69.8},{"x":8.25,"y":61.0},{"x":8.46,"y":55.0},{"x":9.40,"y":58.7},{"x":10.1,"y":65.3},{"x":5.77,"y":16.7},{"x":8.24,"y":16.2},
{"x":2.02,"y":19.4},{"x":2.16,"y":18.2},{"x":2.28,"y":22.0},{"x":2.42,"y":21.0},{"x":2.58,"y":22.8},{"x":2.7,"y":25.2},{"x":2.82,"y":23.2},{"x":2.95,"y":27.4},{"x":3.08,"y":26.2},{"x":3.2,"y":29.6},{"x":3.35,"y":27.0},{"x":3.48,"y":30.6},{"x":3.62,"y":32.6},{"x":3.78,"y":29.6},{"x":3.92,"y":34.6},{"x":4.1,"y":36.6},{"x":4.28,"y":33.6},{"x":4.45,"y":38.6},{"x":4.62,"y":36.2},{"x":4.8,"y":42.2},{"x":5.0,"y":38.2},{"x":5.15,"y":44.0},{"x":5.38,"y":41.2},{"x":5.6,"y":46.8},{"x":5.85,"y":43.6},{"x":6.1,"y":48.6},{"x":6.35,"y":44.0},{"x":6.6,"y":49.6},{"x":6.9,"y":47.2},{"x":7.3,"y":51.8},
{"x":1.60,"y":7.47},{"x":1.41,"y":4.53},{"x":1.58,"y":2.92},{"x":1.58,"y":2.63},{"x":1.60,"y":2.26},{"x":1.66,"y":2.36},{"x":1.74,"y":2.33},{"x":1.66,"y":3.20},{"x":1.76,"y":3.17},{"x":1.79,"y":3.02},{"x":1.83,"y":3.23},{"x":1.86,"y":3.20},{"x":1.89,"y":3.25},{"x":1.91,"y":3.80},{"x":1.93,"y":4.06},{"x":1.92,"y":4.34},{"x":1.89,"y":3.68},{"x":1.91,"y":3.52},{"x":1.96,"y":3.56},{"x":1.96,"y":3.23},{"x":1.98,"y":3.88},{"x":2.04,"y":3.77},{"x":2.03,"y":3.48},{"x":2.07,"y":3.12},{"x":2.07,"y":2.73},{"x":2.13,"y":3.07},{"x":2.14,"y":6.05},{"x":2.11,"y":4.08},{"x":2.17,"y":3.94},{"x":2.18,"y":4.37},{"x":2.19,"y":3.38},{"x":2.22,"y":3.44},{"x":2.24,"y":2.82},{"x":2.24,"y":3.36},{"x":2.27,"y":4.31},{"x":2.30,"y":3.67},{"x":2.31,"y":6.30},{"x":2.33,"y":3.15},{"x":2.36,"y":2.42},{"x":2.36,"y":4.16},{"x":2.36,"y":4.41},{"x":2.28,"y":4.81},{"x":2.38,"y":5.74},{"x":2.39,"y":4.84},{"x":2.41,"y":4.08},{"x":2.44,"y":3.20},{"x":2.45,"y":3.67},{"x":2.49,"y":3.73},{"x":2.52,"y":3.93},{"x":2.55,"y":4.41},{"x":2.56,"y":5.06},{"x":2.57,"y":3.73},{"x":2.60,"y":4.12},{"x":2.66,"y":3.33},{"x":2.68,"y":4.12},{"x":2.72,"y":4.26},{"x":2.71,"y":4.91},{"x":2.73,"y":5.58},{"x":2.75,"y":3.82},{"x":2.75,"y":4.60},{"x":2.76,"y":5.79},{"x":2.79,"y":4.74},{"x":2.83,"y":3.79},{"x":2.86,"y":5.26},{"x":2.86,"y":4.43},{"x":2.85,"y":4.16},{"x":2.89,"y":4.43},{"x":2.90,"y":4.09},{"x":2.91,"y":5.21},{"x":2.91,"y":3.43},{"x":2.93,"y":4.08},{"x":2.95,"y":4.59},{"x":2.98,"y":5.48},{"x":2.98,"y":5.74},{"x":3.07,"y":6.09},{"x":3.07,"y":5.26},{"x":3.06,"y":5.04},{"x":3.11,"y":4.47},{"x":3.12,"y":4.20},{"x":3.13,"y":3.77},{"x":3.17,"y":4.83},{"x":3.19,"y":4.63},{"x":3.21,"y":6.01},{"x":3.24,"y":5.21},{"x":3.30,"y":5.13},{"x":3.32,"y":4.31},{"x":3.32,"y":3.50},{"x":3.34,"y":5.85},{"x":3.35,"y":4.15},{"x":3.40,"y":4.63},{"x":3.39,"y":4.97},{"x":3.46,"y":6.55},{"x":3.48,"y":5.36},{"x":3.48,"y":5.85},{"x":3.53,"y":6.07},{"x":3.54,"y":5.12},{"x":3.55,"y":5.46},{"x":3.58,"y":6.66},{"x":3.61,"y":6.26},{"x":3.61,"y":4.63},{"x":3.62,"y":6.70},{"x":3.64,"y":4.78},{"x":3.67,"y":4.38},{"x":3.71,"y":5.12},{"x":3.74,"y":4.92},{"x":3.77,"y":5.36},{"x":3.79,"y":4.49},{"x":3.84,"y":4.40},{"x":3.86,"y":7.12},{"x":3.89,"y":6.19},{"x":3.91,"y":5.26},{"x":3.96,"y":7.37},{"x":3.98,"y":5.82},{"x":4.09,"y":6.38},{"x":4.17,"y":5.64},{"x":4.21,"y":5.26},{"x":4.23,"y":7.79},{"x":4.25,"y":7.18},{"x":4.29,"y":5.15},{"x":4.33,"y":5.57},{"x":4.39,"y":7.12},{"x":4.40,"y":7.63},{"x":4.44,"y":5.21},{"x":4.45,"y":8.26},{"x":4.50,"y":6.19},{"x":4.52,"y":8.84},{"x":4.56,"y":6.00},{"x":4.58,"y":8.26},{"x":4.59,"y":7.33},{"x":4.58,"y":7.00},{"x":4.65,"y":4.94},{"x":4.68,"y":7.30},{"x":4.71,"y":5.08},{"x":4.75,"y":7.52},{"x":4.76,"y":5.57},{"x":4.80,"y":5.74},{"x":4.81,"y":7.25},{"x":4.80,"y":11.5},{"x":4.88,"y":8.87},{"x":4.89,"y":6.66},{"x":4.91,"y":7.91},{"x":4.93,"y":6.03},{"x":4.95,"y":6.70},{"x":5.04,"y":9.94},{"x":5.06,"y":8.38},{"x":5.08,"y":6.12},{"x":5.13,"y":8.91},{"x":5.15,"y":6.89},{"x":5.19,"y":7.39},{"x":5.21,"y":5.12},{"x":5.27,"y":9.96},{"x":5.29,"y":9.55},{"x":5.31,"y":9.15},{"x":5.32,"y":6.70},{"x":5.37,"y":8.38},{"x":5.39,"y":5.98},{"x":5.42,"y":9.07},{"x":5.45,"y":7.30},{"x":5.46,"y":7.83},{"x":5.55,"y":9.94},{"x":5.54,"y":5.98},{"x":5.56,"y":6.89},{"x":5.58,"y":7.91},{"x":5.62,"y":8.38},{"x":5.66,"y":6.55},{"x":5.68,"y":9.40},
{"x":5.73,"y":7.25},{"x":5.78,"y":7.77},{"x":5.82,"y":5.98},{"x":5.88,"y":9.40},{"x":5.89,"y":6.79},{"x":5.96,"y":8.80},{"x":5.99,"y":7.98},{"x":6.01,"y":9.84},{"x":6.06,"y":7.69},{"x":6.10,"y":6.19},{"x":6.12,"y":7.37},{"x":6.14,"y":8.38},{"x":6.19,"y":7.04},{"x":6.24,"y":9.94},{"x":6.28,"y":7.91},{"x":6.32,"y":9.84},{"x":6.36,"y":7.06},{"x":6.39,"y":10.8},{"x":6.41,"y":7.62},{"x":6.45,"y":8.87},{"x":6.50,"y":6.79},{"x":6.54,"y":7.24},{"x":6.59,"y":7.91},{"x":6.66,"y":8.43},{"x":6.73,"y":9.94},{"x":6.77,"y":11.5},{"x":6.79,"y":7.00},{"x":6.87,"y":8.26},{"x":6.91,"y":8.87},{"x":7.01,"y":9.15},{"x":7.12,"y":8.80},{"x":7.19,"y":7.98},{"x":7.31,"y":8.43},{"x":7.37,"y":8.80},{"x":7.41,"y":7.98},{"x":7.50,"y":9.40},{"x":7.58,"y":9.45},{"x":7.66,"y":8.84},{"x":7.78,"y":9.40},{"x":7.85,"y":8.45},{"x":7.91,"y":8.26},{"x":7.97,"y":10.2},{"x":7.99,"y":9.22},{"x":8.05,"y":9.60},{"x":8.16,"y":9.31},{"x":8.22,"y":10.4},{"x":8.28,"y":9.70},{"x":8.52,"y":10.45},{"x":9.38,"y":10.4},{"x":10.1,"y":11.6},{"x":6.04,"y":12.6},
{"x":2.0,"y":3.9},{"x":2.12,"y":3.6},{"x":2.25,"y":4.0},{"x":2.4,"y":3.8},{"x":2.55,"y":4.5},{"x":2.7,"y":4.3},{"x":2.85,"y":4.9},{"x":3.0,"y":4.4},{"x":3.15,"y":5.1},{"x":3.3,"y":4.8},{"x":3.45,"y":5.5},{"x":3.6,"y":5.3},{"x":3.75,"y":5.9},{"x":3.9,"y":5.5},{"x":4.05,"y":6.1},{"x":4.2,"y":6.6},{"x":4.35,"y":6.2},{"x":4.5,"y":6.9},{"x":4.7,"y":6.5},{"x":4.9,"y":7.4},{"x":5.1,"y":7.2},{"x":5.3,"y":7.8},{"x":5.5,"y":8.6},{"x":5.75,"y":8.0},{"x":6.0,"y":8.7},{"x":6.25,"y":8.2},{"x":6.5,"y":9.0},{"x":6.8,"y":8.6},{"x":7.1,"y":9.4},{"x":7.45,"y":9.0}
],
"l97": [{"x":15,"y":300,"t":"1997 FLT"},{"x":15,"y":30,"t":"1997 SLT"},{"x":15,"y":3,"t":"1997 TLT"}],
"l99": [{"x":15,"y":200,"t":"1999 FLT"},{"x":15,"y":20,"t":"1999 SLT"},{"x":15,"y":2,"t":"1999 TLT"}]
},
"layer": [
{
"data": {"name": "r"},
"mark": {"type": "circle", "size": 18, "color": "#ff0000", "opacity": 1},
"encoding": {
"x": {"field": "x", "type": "quantitative", "scale": {"type": "log", "domain": [0.5, 50], "nice": false},
"axis": {"orient": "bottom", "values": [0.6,0.7,0.8,0.9,1,2,3,4,5,6,7,8,9,10,20,30,40], "grid": true, "gridColor": "#000", "gridDash": [3,5], "gridOpacity": 0.75, "gridWidth": 1, "ticks": true, "tickSize": -10, "tickColor": "#000", "tickWidth": 1, "labels": false, "domain": true, "domainColor": "#000", "domainWidth": 1.2, "title": null}},
"y": {"field": "y", "type": "quantitative", "scale": {"type": "log", "domain": [1, 1500], "nice": false},
"axis": {"orient": "left", "values": [2,3,4,5,6,7,8,9,10,20,30,40,50,60,70,80,90,100,200,300,400,500,600,700,800,900,1000], "grid": true, "gridColor": "#000", "gridDash": [3,5], "gridOpacity": 0.75, "gridWidth": 1, "ticks": true, "tickSize": -11, "tickColor": "#000", "tickWidth": 1, "labels": false, "domain": true, "domainColor": "#000", "domainWidth": 1.2, "title": null}}
}
},
{
"data": {"name": "b"},
"mark": {"type": "circle", "size": 44, "color": "#000000", "opacity": 1},
"encoding": {
"x": {"field": "x", "type": "quantitative", "scale": {"type": "log", "domain": [0.5, 50], "nice": false},
"axis": {"orient": "bottom", "values": [1,10], "grid": false, "ticks": true, "tickSize": -21, "tickColor": "#000", "tickWidth": 1, "labels": false, "domain": false, "title": null}},
"y": {"field": "y", "type": "quantitative", "scale": {"type": "log", "domain": [1, 1500], "nice": false},
"axis": {"orient": "left", "values": [1,10,100,1000], "grid": false, "ticks": true, "tickSize": -22, "tickColor": "#000", "tickWidth": 1, "labels": false, "domain": false, "title": null}}
}
},
{
"data": {"name": "l97"},
"mark": {"type": "text", "align": "left", "baseline": "alphabetic", "font": "Liberation Sans", "fontSize": 40, "fontWeight": "bold", "color": "#ff0000"},
"encoding": {
"x": {"field": "x", "type": "quantitative", "scale": {"type": "log", "domain": [0.5, 50], "nice": false},
"axis": {"orient": "bottom", "values": [1,10], "grid": false, "ticks": false, "tickSize": 0, "domain": false, "labels": true, "labelExpr": "'10'", "labelFont": "Liberation Sans", "labelFontWeight": "bold", "labelFontSize": 28, "labelColor": "#000", "labelBaseline": "alphabetic", "labelAlign": "center", "labelPadding": 50, "labelOffset": -10, "labelFlush": false, "labelOverlap": false, "labelBound": false,
"title": "luminosity (cm-2 s-1)", "titleFont": "Liberation Sans", "titleFontWeight": "bold", "titleFontSize": 28, "titleColor": "#000", "titleX": 1163, "titleY": 79, "titleAlign": "right", "titleAnchor": "end", "titleBaseline": "alphabetic"}},
"y": {"field": "y", "type": "quantitative", "scale": {"type": "log", "domain": [1, 1500], "nice": false},
"axis": {"orient": "left", "values": [1,10,100,1000], "grid": false, "ticks": false, "tickSize": 0, "domain": false, "labels": true, "labelExpr": "datum.value < 5 ? '1' : '10'", "labelFont": "Liberation Sans", "labelFontWeight": "bold", "labelFontSize": 28, "labelColor": "#000", "labelAlign": "right", "labelBaseline": "middle", "labelPadding": 32, "labelOffset": 1, "labelFlush": false, "labelOverlap": false, "labelBound": false,
"title": "rate (Hz)", "titleFont": "Liberation Sans", "titleFontWeight": "bold", "titleFontSize": 28, "titleColor": "#000", "titleAngle": 270, "titleX": -100, "titleY": -2, "titleAlign": "right", "titleAnchor": "end", "titleBaseline": "alphabetic"}},
"text": {"field": "t"}
}
},
{
"data": {"name": "l99"},
"mark": {"type": "text", "align": "left", "baseline": "alphabetic", "font": "Liberation Sans", "fontSize": 40, "fontWeight": "bold", "color": "#000000"},
"encoding": {
"x": {"field": "x", "type": "quantitative", "scale": {"type": "log", "domain": [0.5, 50], "nice": false},
"axis": {"orient": "bottom", "values": [1,10], "grid": false, "ticks": false, "tickSize": 0, "domain": false, "labels": true, "labelExpr": "datum.value < 5 ? '30' : '31'", "labelFont": "Liberation Sans", "labelFontWeight": "bold", "labelFontSize": 20, "labelColor": "#000", "labelBaseline": "alphabetic", "labelAlign": "center", "labelPadding": 29, "labelOffset": 25, "labelFlush": false, "labelOverlap": false, "labelBound": false, "title": null}},
"y": {"field": "y", "type": "quantitative", "scale": {"type": "log", "domain": [1, 1500], "nice": false},
"axis": {"orient": "left", "values": [100,1000], "grid": false, "ticks": false, "tickSize": 0, "domain": false, "labels": true, "labelExpr": "datum.value < 500 ? '2' : '3'", "labelFont": "Liberation Sans", "labelFontWeight": "bold", "labelFontSize": 18, "labelColor": "#000", "labelAlign": "right", "labelBaseline": "middle", "labelPadding": 8, "labelOffset": -10, "labelFlush": false, "labelOverlap": false, "labelBound": false, "title": null}},
"text": {"field": "t"}
}
}
],
"resolve": {"axis": {"x": "independent", "y": "independent"}}
}
